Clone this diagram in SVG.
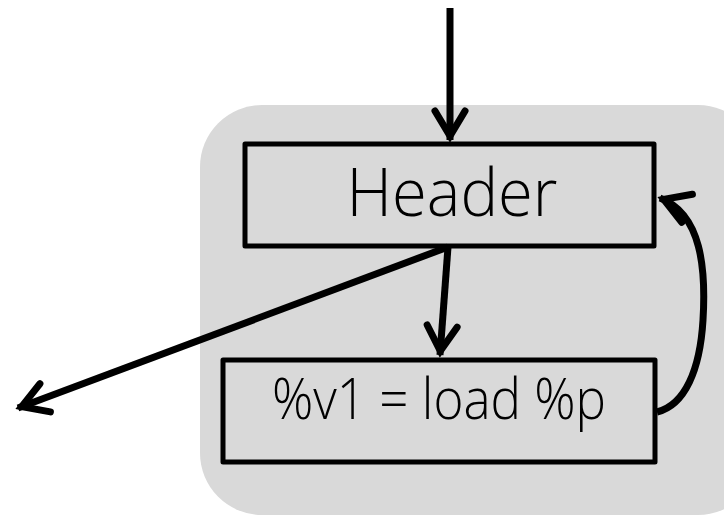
<svg xmlns="http://www.w3.org/2000/svg" width="724" height="516" viewBox="0 0 724 516">
<style>
.box{fill:none;stroke:#000;stroke-width:5;stroke-linejoin:round}
.lbl{font-family:"Open Sans","Liberation Sans",sans-serif;font-weight:300;fill:#000;text-anchor:middle}
.edge{fill:none;stroke:#000;stroke-width:7;marker-end:url(#arr)}
</style>
<defs>
<marker id="arr" markerUnits="userSpaceOnUse" viewBox="-40 -25 50 50" markerWidth="50" markerHeight="50" refX="0" refY="0" orient="auto" overflow="visible">
<path d="M-29,-15 L-4,0 L-29,15" fill="none" stroke="#000" stroke-width="7" stroke-linecap="round" stroke-linejoin="miter"/>
</marker>
</defs>
<rect id="region" x="200" y="105" width="560" height="410" rx="62" fill="#d9d9d9"/>
<g id="header">
<rect class="box" x="245" y="144" width="409" height="102"/>
<text class="lbl" x="452" y="216" font-size="66" textLength="211" lengthAdjust="spacingAndGlyphs">Header</text>
</g>
<g id="load">
<rect class="box" x="223" y="360" width="432" height="102"/>
<text class="lbl" x="439" y="419" font-size="57" textLength="334" lengthAdjust="spacingAndGlyphs">%v1 = load %p</text>
</g>
<g id="connectors">
<path class="edge" d="M450,8 L450,140"/>
<path class="edge" d="M448,247 L440,355"/>
<path class="edge" d="M448,247 L18,408"/>
<path class="edge" d="M657,412 C685,405 700,370 703,320 C706,270 702,214 660,198"/>
</g>
</svg>
